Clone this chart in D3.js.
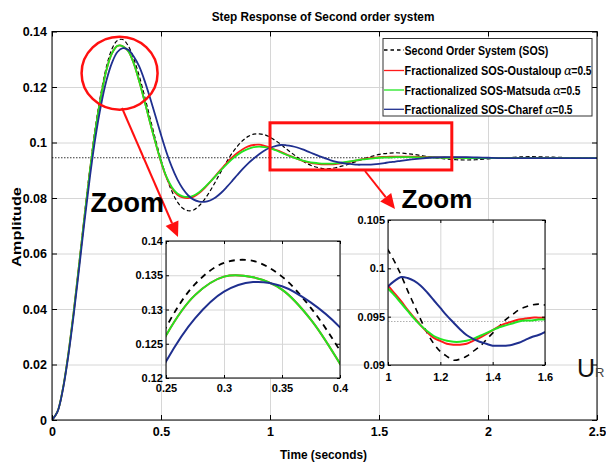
<!DOCTYPE html>
<html>
<head>
<meta charset="utf-8">
<script src="https://cdn.jsdelivr.net/npm/d3@7"></script>
<style>
  body { margin: 0; background: #fff; }
  svg { display: block; }
</style>
</head>
<body>
<svg id="chart" width="606" height="464"></svg>
<script>
// time samples (s)
const time = [
  0, 0.025, 0.05, 0.075, 0.1, 0.125, 0.15, 0.175,
  0.2, 0.225, 0.25, 0.275, 0.3, 0.325, 0.35, 0.375,
  0.4, 0.425, 0.45, 0.475, 0.5, 0.525, 0.55, 0.575,
  0.6, 0.625, 0.65, 0.675, 0.7, 0.725, 0.75, 0.775,
  0.8, 0.825, 0.85, 0.875, 0.9, 0.925, 0.95, 0.975,
  1.0, 1.025, 1.05, 1.075, 1.1, 1.125, 1.15, 1.175,
  1.2, 1.225, 1.25, 1.275, 1.3, 1.325, 1.35, 1.375,
  1.4, 1.425, 1.45, 1.475, 1.5, 1.525, 1.55, 1.575,
  1.6, 1.65, 1.7, 1.75, 1.8, 1.85, 1.9, 1.95,
  2.0, 2.05, 2.1, 2.15, 2.2, 2.25, 2.3, 2.35,
  2.4, 2.45, 2.5
];

// Second Order System (SOS)
const sos = [
  0, 0.0030, 0.0113, 0.0240, 0.0395, 0.0568, 0.0745, 0.0912,
  0.1060, 0.1180, 0.1274, 0.1337, 0.1368, 0.1371, 0.1348, 0.1302,
  0.1240, 0.1166, 0.1088, 0.1010, 0.0938, 0.0875, 0.0824, 0.0786,
  0.0763, 0.0754, 0.0757, 0.0772, 0.0795, 0.0825, 0.0859, 0.0895,
  0.0929, 0.0960, 0.0986, 0.1007, 0.1022, 0.1030, 0.1031, 0.1028,
  0.1019, 0.1007, 0.0993, 0.0977, 0.0962, 0.0947, 0.0933, 0.0922,
  0.0914, 0.0909, 0.0905, 0.0906, 0.0909, 0.0914, 0.0919, 0.0926,
  0.0933, 0.0940, 0.0947, 0.0952, 0.0957, 0.0960, 0.0962, 0.0963,
  0.0962, 0.0958, 0.0952, 0.0946, 0.0941, 0.0938, 0.0937, 0.0938,
  0.0941, 0.0944, 0.0946, 0.0948, 0.0949, 0.0948, 0.0947, 0.0946,
  0.0945, 0.0944, 0.0943
];

// Fractionalized SOS - Oustaloup
const oustaloup = [
  0, 0.0030, 0.0113, 0.0239, 0.0393, 0.0565, 0.0740, 0.0905,
  0.1050, 0.1167, 0.1262, 0.1321, 0.1348, 0.1347, 0.1329, 0.1285,
  0.1221, 0.1148, 0.1071, 0.0998, 0.0930, 0.0874, 0.0835, 0.0812,
  0.0802, 0.0800, 0.0805, 0.0818, 0.0836, 0.0857, 0.0880, 0.0903,
  0.0925, 0.0945, 0.0962, 0.0976, 0.0986, 0.0991, 0.0992, 0.0988,
  0.0982, 0.0974, 0.0966, 0.0957, 0.0949, 0.0941, 0.0934, 0.0928,
  0.0925, 0.0922, 0.0921, 0.0921, 0.0922, 0.0925, 0.0928, 0.0932,
  0.0936, 0.0940, 0.0943, 0.0945, 0.0947, 0.0948, 0.0949, 0.0949,
  0.0949, 0.0949, 0.0948, 0.0947, 0.0946, 0.0945, 0.0945, 0.0944,
  0.0944, 0.0944, 0.0944, 0.0944, 0.0944, 0.0944, 0.0944, 0.0944,
  0.0944, 0.0944, 0.0944
];

// Fractionalized SOS - Matsuda
const matsuda = [
  0, 0.0030, 0.0113, 0.0239, 0.0393, 0.0565, 0.0740, 0.0905,
  0.1050, 0.1167, 0.1262, 0.1321, 0.1348, 0.1347, 0.1329, 0.1285,
  0.1221, 0.1148, 0.1071, 0.0999, 0.0932, 0.0877, 0.0839, 0.0816,
  0.0806, 0.0804, 0.0809, 0.0821, 0.0838, 0.0858, 0.0879, 0.0900,
  0.0920, 0.0939, 0.0955, 0.0968, 0.0977, 0.0983, 0.0985, 0.0983,
  0.0979, 0.0972, 0.0964, 0.0956, 0.0948, 0.0941, 0.0935, 0.0930,
  0.0927, 0.0925, 0.0924, 0.0924, 0.0925, 0.0927, 0.0930, 0.0933,
  0.0936, 0.0939, 0.0941, 0.0943, 0.0945, 0.0946, 0.0946, 0.0947,
  0.0947, 0.0947, 0.0946, 0.0946, 0.0945, 0.0945, 0.0944, 0.0944,
  0.0944, 0.0944, 0.0944, 0.0944, 0.0944, 0.0944, 0.0944, 0.0944,
  0.0944, 0.0944, 0.0944
];

// Fractionalized SOS - Charef
const charef = [
  0, 0.0029, 0.0110, 0.0232, 0.0382, 0.0550, 0.0722, 0.0882,
  0.1022, 0.1135, 0.1224, 0.1287, 0.1326, 0.1340, 0.1334, 0.1310,
  0.1274, 0.1222, 0.1160, 0.1095, 0.1028, 0.0965, 0.0911, 0.0867,
  0.0833, 0.0809, 0.0794, 0.0787, 0.0786, 0.0791, 0.0802, 0.0818,
  0.0838, 0.0860, 0.0883, 0.0905, 0.0925, 0.0942, 0.0958, 0.0971,
  0.0981, 0.0987, 0.0991, 0.0990, 0.0987, 0.0982, 0.0975, 0.0967,
  0.0959, 0.0951, 0.0944, 0.0937, 0.0931, 0.0927, 0.0924, 0.0922,
  0.0920, 0.0920, 0.0920, 0.0921, 0.0923, 0.0926, 0.0929, 0.0931,
  0.0934, 0.0939, 0.0943, 0.0946, 0.0947, 0.0947, 0.0947, 0.0946,
  0.0945, 0.0944, 0.0944, 0.0944, 0.0944, 0.0944, 0.0944, 0.0944,
  0.0944, 0.0944, 0.0944
];

const steadyState = 0.0945;

const mainXTicks = [0, 0.5, 1, 1.5, 2, 2.5];
const mainYTicks = [0, 0.02, 0.04, 0.06, 0.08, 0.1, 0.12, 0.14];
const zoom1XTicks = [0.25, 0.3, 0.35, 0.4];
const zoom1YTicks = [0.12, 0.125, 0.13, 0.135, 0.14];
const zoom2XTicks = [1, 1.2, 1.4, 1.6];
const zoom2YTicks = [0.09, 0.095, 0.1, 0.105];

const legendNames = [
  "Second Order System (SOS)",
  "Fractionalized SOS-Oustaloup",
  "Fractionalized SOS-Matsuda",
  "Fractionalized SOS-Charef"
];
const legendAlpha = ["", "=0.5", "=0.5", "=0.5"];

const series = [
  { values: sos,       color: "#000000", dash: true },
  { values: oustaloup, color: "#ff1a1a", dash: false },
  { values: matsuda,   color: "#22e622", dash: false },
  { values: charef,    color: "#1f2f8f", dash: false }
];

const sans = '"Liberation Sans",Arial,sans-serif';

const svg = d3.select("#chart");
const defs = svg.append("defs");

function drawPanel(p) {
  const x = d3.scaleLinear().domain(p.xDomain).range([p.left, p.right]);
  const y = d3.scaleLinear().domain(p.yDomain).range([p.bottom, p.top]);
  const w = p.right - p.left, h = p.bottom - p.top;
  const g = svg.append("g");

  g.append("rect")
    .attr("x", p.left).attr("y", p.top).attr("width", w).attr("height", h)
    .attr("fill", "#fff");

  // grid
  g.append("g").attr("transform", `translate(0,${p.bottom})`)
    .call(d3.axisBottom(x).tickValues(p.xTicks).tickSize(-h).tickFormat(""))
    .call(a => a.select(".domain").remove())
    .selectAll("line").attr("stroke", "#d6d6d6").attr("stroke-width", 1);
  g.append("g").attr("transform", `translate(${p.left},0)`)
    .call(d3.axisLeft(y).tickValues(p.yTicks).tickSize(-w).tickFormat(""))
    .call(a => a.select(".domain").remove())
    .selectAll("line").attr("stroke", "#d6d6d6").attr("stroke-width", 1);

  const clipId = "clip-" + p.id;
  defs.append("clipPath").attr("id", clipId).append("rect")
    .attr("x", p.left).attr("y", p.top).attr("width", w).attr("height", h);
  const plot = g.append("g").attr("clip-path", `url(#${clipId})`);

  if (p.ssLine) {
    plot.append("line")
      .attr("x1", p.left).attr("x2", p.right)
      .attr("y1", y(steadyState)).attr("y2", y(steadyState))
      .attr("stroke", p.ssColor).attr("stroke-width", 0.8)
      .attr("stroke-dasharray", "1.5,1.5");
  }

  const line = d3.line()
    .x((d, i) => x(time[i]))
    .y(d => y(d))
    .curve(d3.curveCatmullRom.alpha(0.5));

  series.forEach(s => {
    plot.append("path")
      .attr("d", line(s.values))
      .attr("fill", "none")
      .attr("stroke", s.color)
      .attr("stroke-width", s.dash ? p.dashWidth : p.lineWidth)
      .attr("stroke-dasharray", s.dash ? p.dashPattern : null);
  });

  // axes with inward ticks
  const styleAxis = a => {
    a.select(".domain").remove();
    a.selectAll("line").attr("stroke", "#000");
    a.attr("font-family", p.font).attr("font-size", p.fontSize).attr("font-weight", "bold");
    a.selectAll("text").attr("fill", "#000");
  };
  g.append("g").attr("transform", `translate(0,${p.bottom})`)
    .call(d3.axisBottom(x).tickValues(p.xTicks).tickSize(-p.tickLen).tickPadding(p.xPad).tickFormat(d => String(d)))
    .call(styleAxis);
  g.append("g").attr("transform", `translate(${p.left},0)`)
    .call(d3.axisLeft(y).tickValues(p.yTicks).tickSize(-p.tickLen).tickPadding(p.yPad).tickFormat(d => String(d)))
    .call(styleAxis);
  g.append("g").attr("transform", `translate(0,${p.top})`)
    .call(d3.axisTop(x).tickValues(p.xTicks).tickSize(-p.tickLen).tickFormat(""))
    .call(styleAxis);
  g.append("g").attr("transform", `translate(${p.right},0)`)
    .call(d3.axisRight(y).tickValues(p.yTicks).tickSize(-p.tickLen).tickFormat(""))
    .call(styleAxis);

  g.append("rect")
    .attr("x", p.left).attr("y", p.top).attr("width", w).attr("height", h)
    .attr("fill", "none").attr("stroke", "#000").attr("stroke-width", 1);

  return { x, y, g };
}

// main axes
const main = drawPanel({
  id: "main", xDomain: [0, 2.5], yDomain: [0, 0.14],
  left: 52, right: 597, top: 31.5, bottom: 420,
  xTicks: mainXTicks, yTicks: mainYTicks,
  font: sans, fontSize: 12.5, tickLen: 5, xPad: 7, yPad: 5,
  lineWidth: 1.8, dashWidth: 1.2, dashPattern: "4,2.5",
  ssLine: true, ssColor: "#000"
});

// text squeezed horizontally to a measured width (condensed look)
function squeezed(x, y, str, size, width, opts = {}) {
  const t = svg.append("text")
    .attr("x", 0).attr("y", 0)
    .attr("font-family", sans).attr("font-weight", "bold")
    .attr("font-size", size)
    .attr("text-anchor", opts.anchor || "start")
    .text(str);
  const natural = t.node().getComputedTextLength();
  const sx = width / natural;
  const rot = opts.rotate ? ` rotate(${opts.rotate})` : "";
  t.attr("transform", `translate(${x},${y})${rot} scale(${sx},1)`);
  return t;
}

// title and axis labels
squeezed(323, 20.5, "Step Response of Second order system", 12.5, 223, { anchor: "middle" });
squeezed(323.5, 459, "Time (seconds)", 12.5, 87, { anchor: "middle" });
squeezed(21, 227, "Amplitude", 12, 80, { anchor: "middle", rotate: -90 });

// zoom markers on the main axes
const red = "#ff1010";
svg.append("ellipse")
  .attr("cx", main.x(0.31)).attr("cy", main.y(0.125))
  .attr("rx", 38).attr("ry", 36.5)
  .attr("fill", "none").attr("stroke", red).attr("stroke-width", 2.5);
svg.append("rect")
  .attr("x", main.x(1.0)).attr("y", main.y(0.1071))
  .attr("width", main.x(1.834) - main.x(1.0)).attr("height", main.y(0.0901) - main.y(0.1071))
  .attr("fill", "none").attr("stroke", red).attr("stroke-width", 3);

// legend
svg.append("rect").attr("x", 383).attr("y", 38.5).attr("width", 209).attr("height", 77.5)
  .attr("fill", "#fff").attr("stroke", "#333").attr("stroke-width", 1);
const legendRowY = [50, 70.5, 90, 109.3];
const legendNameW = [144, 157, 146, 138];
legendNames.forEach((name, i) => {
  const s = series[i];
  svg.append("line")
    .attr("x1", 384).attr("x2", 404).attr("y1", legendRowY[i]).attr("y2", legendRowY[i])
    .attr("stroke", s.color).attr("stroke-width", 1.3)
    .attr("stroke-dasharray", s.dash ? "3.5,3" : null);
  const by = legendRowY[i] + 4.6;
  squeezed(404.5, by, name, 13, legendNameW[i]);
  if (legendAlpha[i]) {
    const ax = 404.5 + legendNameW[i] + 2.5;
    svg.append("text").attr("x", ax).attr("y", by)
      .attr("font-family", "DejaVu Serif, serif").attr("font-style", "italic")
      .attr("font-size", 12).text("\u03b1");
    squeezed(ax + 7.5, by, legendAlpha[i], 13, 20);
  }
});

// inset 1: peak zoom
drawPanel({
  id: "z1", xDomain: [0.25, 0.4], yDomain: [0.12, 0.14],
  left: 166, right: 340, top: 241, bottom: 378,
  xTicks: zoom1XTicks, yTicks: zoom1YTicks,
  font: sans, fontSize: 11, tickLen: 3, xPad: 6, yPad: 3,
  lineWidth: 2, dashWidth: 1.8, dashPattern: "6,5",
  ssLine: false
});

// inset 2: tail zoom
drawPanel({
  id: "z2", xDomain: [1, 1.6], yDomain: [0.09, 0.105],
  left: 388, right: 545, top: 220, bottom: 365,
  xTicks: zoom2XTicks, yTicks: zoom2YTicks,
  font: sans, fontSize: 11, tickLen: 3, xPad: 8, yPad: 3,
  lineWidth: 2, dashWidth: 1.6, dashPattern: "6,5",
  ssLine: true, ssColor: "#9a9a9a"
});

// arrows
function arrow(x1, y1, x2, y2) {
  const ang = Math.atan2(y2 - y1, x2 - x1);
  const len = 15, half = 7;
  const bx = x2 - len * Math.cos(ang), by = y2 - len * Math.sin(ang);
  svg.append("line").attr("x1", x1).attr("y1", y1).attr("x2", bx).attr("y2", by)
    .attr("stroke", red).attr("stroke-width", 2);
  const px = -Math.sin(ang) * half, py = Math.cos(ang) * half;
  svg.append("polygon")
    .attr("points", `${x2},${y2} ${bx + px},${by + py} ${bx - px},${by - py}`)
    .attr("fill", red);
}
arrow(122, 108, 178, 237);
arrow(365, 171, 395, 209);

// "Zoom" labels
svg.append("text").attr("x", 90.5).attr("y", 212)
  .attr("font-family", sans).attr("font-weight", "bold").attr("font-size", 27)
  .text("Zoom");
svg.append("text").attr("x", 401.5).attr("y", 208)
  .attr("font-family", sans).attr("font-weight", "bold").attr("font-size", 26)
  .text("Zoom");

// U_R mark
const ur = svg.append("text").attr("x", 577).attr("y", 377)
  .attr("font-family", sans).attr("font-size", 25).attr("fill", "#111");
ur.append("tspan").text("U");
ur.append("tspan").attr("font-size", 13).attr("fill", "#444").text("R");
</script>
</body>
</html>
